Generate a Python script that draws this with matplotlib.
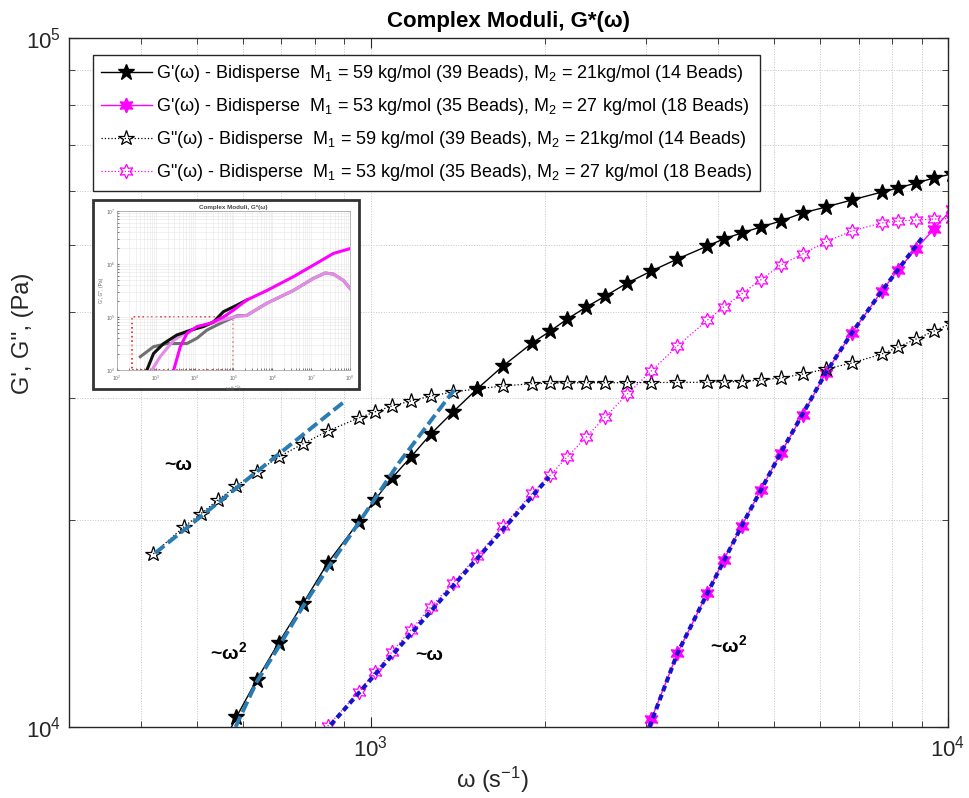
import numpy as np
import matplotlib.pyplot as plt
from matplotlib.patches import Rectangle
from matplotlib.ticker import LogLocator, NullFormatter

plt.rcParams['font.family'] = ['Liberation Sans', 'DejaVu Sans']
plt.rcParams['mathtext.fontset'] = 'custom'
plt.rcParams['mathtext.rm'] = 'Liberation Sans'
plt.rcParams['mathtext.it'] = 'Liberation Sans:italic'
plt.rcParams['mathtext.bf'] = 'Liberation Sans:bold'

# frequency grid (s^-1); the last point lies just past the plotted range
omega = np.array([420, 474, 507, 543, 585, 634, 692, 762, 842, 953,
                  1016, 1088, 1173, 1271, 1388, 1528, 1695, 1904, 2046, 2189,
                  2362, 2549, 2783, 3063, 3399, 3831, 4084, 4390, 4736, 5130,
                  5601, 6140, 6813, 7683, 8190, 8799, 9456, 10160])

# moduli in Pa; each series covers the tail end of the grid
gpp_59 = np.array([1.783, 1.951, 2.038, 2.135, 2.238, 2.345, 2.465, 2.575, 2.689, 2.809,
                   2.866, 2.924, 2.973, 3.023, 3.064, 3.095, 3.126, 3.150, 3.155, 3.158,
                   3.160, 3.160, 3.160, 3.162, 3.163, 3.165, 3.168, 3.172, 3.189, 3.210,
                   3.253, 3.307, 3.375, 3.478, 3.560, 3.656, 3.755, 3.857]) * 1e4
gp_59 = np.array([0.911, 1.034, 1.170, 1.324, 1.508, 1.730, 1.984, 2.135, 2.298, 2.465,
                  2.663, 2.866, 3.095, 3.342, 3.609, 3.755, 3.909, 4.069, 4.222, 4.410,
                  4.590, 4.779, 4.990, 5.108, 5.212, 5.317, 5.424, 5.572, 5.684, 5.820,
                  5.977, 6.057, 6.159, 6.263, 6.350]) * 1e4
gpp_53 = np.array([1.003, 1.124, 1.202, 1.285, 1.383, 1.494, 1.618, 1.771, 1.957, 2.186,
                   2.321, 2.465, 2.636, 2.818, 3.043, 3.287, 3.573, 3.896, 4.069, 4.251,
                   4.455, 4.683, 4.859, 5.058, 5.248, 5.390, 5.424, 5.442, 5.460, 5.470]) * 1e4
gp_53 = np.array([0.870, 1.027, 1.280, 1.565, 1.747, 1.957, 2.208, 2.498, 2.837, 3.265,
                  3.731, 4.294, 4.606, 4.940, 5.282, 5.650]) * 1e4

# power-law guide lines (omega, G)
fit_w_59 = ([423, 898], [1.788e4, 2.963e4])
fit_w2_59 = ([583, 634, 692, 762, 845, 953, 1118, 1394],
             [1.0e4, 1.162e4, 1.306e4, 1.494e4, 1.707e4, 1.978e4, 2.416e4, 3.084e4])
fit_w_53 = ([852, 2037], [1.007e4, 2.306e4])
fit_w2_53 = ([3038, 3399, 3831, 4390, 5130, 6140, 6813, 7683, 9015],
             [1.0e4, 1.280e4, 1.565e4, 1.957e4, 2.498e4, 3.265e4, 3.731e4, 4.294e4, 5.125e4])

labels = [
    "G'(ω) - Bidisperse  M$_1$ = 59 kg/mol (39 Beads), M$_2$ = 21kg/mol (14 Beads)",
    "G'(ω) - Bidisperse  M$_1$ = 53 kg/mol (35 Beads), M$_2$ = 27 kg/mol (18 Beads)",
    'G"(ω) - Bidisperse  M$_1$ = 59 kg/mol (39 Beads), M$_2$ = 21kg/mol (14 Beads)',
    'G"(ω) - Bidisperse  M$_1$ = 53 kg/mol (35 Beads), M$_2$ = 27 kg/mol (18 Beads)',
]

# overview curves over the full frequency window (inset)
ov_gp59_w = [589, 871, 1585, 3467, 7762, 1.70e4, 3.09e4, 5.50e4, 1.20e5, 2.19e5]
ov_gp59 = [1.0e4, 2.04e4, 3.16e4, 4.57e4, 5.62e4, 6.61e4, 8.13e4, 1.26e5, 1.66e5, 2.09e5]
ov_gp53_w = [2884, 4266, 6310, 1.15e4, 2.51e4, 5.50e4, 1.0e5, 2.19e5, 7.24e5, 3.47e6,
             1.15e7, 3.72e7, 1.0e8]
ov_gp53 = [1.0e4, 2.75e4, 4.90e4, 6.61e4, 7.59e4, 1.0e5, 1.35e5, 2.09e5, 3.16e5, 5.75e5,
           9.55e5, 1.58e6, 1.95e6]
ov_gpp59_w = [398, 871, 1950, 6310, 1.15e4, 2.04e4, 4.57e4, 1.20e5, 2.19e5, 7.24e5,
              3.47e6, 1.15e7, 2.29e7, 3.72e7, 6.76e7, 1.0e8]
ov_gpp59 = [1.78e4, 2.75e4, 3.16e4, 3.16e4, 3.98e4, 5.62e4, 7.59e4, 1.05e5, 1.07e5, 1.82e5,
            3.16e5, 5.37e5, 6.76e5, 6.46e5, 4.90e5, 3.47e5]
ov_gpp53_w = [794, 1288, 2884, 6310, 1.38e4, 3.72e4, 1.0e5, 2.19e5, 7.24e5, 3.47e6,
              1.15e7, 2.29e7, 3.72e7, 6.76e7, 1.0e8]
ov_gpp53 = [1.0e4, 1.78e4, 3.63e4, 5.25e4, 6.61e4, 8.13e4, 1.0e5, 1.07e5, 1.82e5, 3.16e5,
            5.37e5, 6.76e5, 6.46e5, 4.90e5, 3.47e5]

W, H = 969, 798
fig = plt.figure(figsize=(W / 100, H / 100), dpi=100)
ax = fig.add_axes([69 / W, 1 - 727 / H, (948 - 69) / W, (727 - 38) / H])
ax.set_xscale('log')
ax.set_yscale('log')

hexagram = (6, 1, 0)
l1, = ax.plot(omega[-len(gp_59):], gp_59, '-', color='k', lw=1.0, marker='*',
              ms=12, mfc='k', mec='k', label=labels[0])
l2, = ax.plot(omega[-len(gp_53):], gp_53, '-', color='#ff00ff', lw=1.0, marker=hexagram,
              ms=10.5, mfc='#ff00ff', mec='#ff00ff', label=labels[1])
l3, = ax.plot(omega[-len(gpp_59):], gpp_59, ':', color='k', lw=0.9, marker='*',
              ms=11.5, mfc='none', mec='k', mew=0.9, label=labels[2])
l4, = ax.plot(omega[-len(gpp_53):], gpp_53, ':', color='#ff00ff', lw=0.9, marker=hexagram,
              ms=10.5, mfc='none', mec='#ff00ff', mew=0.9, label=labels[3])

teal = '#2a7cb3'
navy = '#1414cc'
ax.plot(*fit_w_59, color=teal, lw=2.8, ls=(0, (3, 1.2)), zorder=4)
ax.plot(*fit_w2_59, color=teal, lw=2.8, ls=(0, (3, 1.2)), zorder=4)
ax.plot(*fit_w_53, color=navy, lw=3, ls=(0, (1.4, 0.9)), zorder=4)
ax.plot(*fit_w2_53, color=navy, lw=3, ls=(0, (1.4, 0.9)), zorder=4)

ann = dict(fontsize=14, fontweight='bold', ha='center', va='center')
ax.text(464, 2.393e4, '~ω', **ann)
ax.text(567, 1.285e4, '~ω$^{\\mathbf{2}}$', **ann)
ax.text(1261, 1.268e4, '~ω', **ann)
ax.text(4167, 1.315e4, '~ω$^{\\mathbf{2}}$', **ann)

ax.set_xlim(300, 1e4)
ax.set_ylim(1e4, 1e5)
for axis in (ax.xaxis, ax.yaxis):
    axis.set_major_locator(LogLocator(base=10, numticks=10))
    axis.set_minor_locator(LogLocator(base=10, subs=np.arange(2, 10), numticks=20))
    axis.set_minor_formatter(NullFormatter())
ax.grid(True, which='both', ls=':', color='#c4c4c4', lw=0.7)
ax.tick_params(which='both', direction='in', top=True, right=True,
               colors='#262626', labelsize=16)
ax.tick_params(which='major', length=7, pad=6)
ax.tick_params(which='minor', length=4)
for sp in ax.spines.values():
    sp.set_color('#262626')
    sp.set_linewidth(1.0)

ax.set_title('Complex Moduli, G*(ω)', fontsize=16, fontweight='bold', pad=8)
fig.text(23 / W, 1 - 333 / H, "G', G'', (Pa)", rotation=90, fontsize=17,
         ha='center', va='center', color='#262626')
fig.text(492 / W, 1 - 780 / H, 'ω (s$^{-1}$)', fontsize=17,
         ha='center', va='center', color='#262626')

leg = ax.legend(handles=[l1, l2, l3, l4], loc='upper left',
                bbox_to_anchor=(24 / 879, (727 - 55) / 689), borderaxespad=0,
                fontsize=13, handlelength=2.8, handletextpad=0.25, borderpad=0.45,
                labelspacing=0.66, fancybox=False, framealpha=1)
leg.get_frame().set_edgecolor('#262626')
leg.get_frame().set_linewidth(1.0)

# inset: overview of the whole frequency window
fig.add_artist(Rectangle((93 / W, 1 - 389 / H), (359 - 93) / W, (389 - 200) / H,
                         transform=fig.transFigure, facecolor='white',
                         edgecolor='#333333', lw=2, zorder=5))
ins = fig.add_axes([117 / W, 1 - 370 / H, (350 - 117) / W, (370 - 211) / H])
ins.set_zorder(6)
ins.set_xscale('log')
ins.set_yscale('log')
ins.plot(ov_gpp59_w, ov_gpp59, color='#707070', lw=2.2)
ins.plot(ov_gpp53_w, ov_gpp53, color='#e48ae8', lw=2.2)
ins.plot(ov_gp59_w, ov_gp59, color='#111111', lw=2.2)
ins.plot(ov_gp53_w, ov_gp53, color='#ff00ff', lw=2.2)
ins.add_patch(Rectangle((250, 1e4), 1e5 - 250, 1e5 - 1e4, fill=False,
                        edgecolor='#e02020', ls=':', lw=1.2))
ins.set_xlim(1e2, 1e8)
ins.set_ylim(1e4, 1e7)
ins.xaxis.set_major_locator(LogLocator(base=10, numticks=10))
ins.yaxis.set_major_locator(LogLocator(base=10, numticks=10))
ins.grid(True, which='both', color='#e6e6e6', lw=0.4)
ins.tick_params(which='both', direction='in', labelsize=3.5, colors='#666666',
                length=1.5)
ins.tick_params(axis='x', pad=2.5)
ins.tick_params(axis='y', pad=1.5)
for sp in ins.spines.values():
    sp.set_color('#999999')
    sp.set_linewidth(0.5)
ins.set_title('Complex Moduli, G*(ω)', fontsize=4.5, fontweight='bold', pad=1.5,
              color='#444444')
ins.set_xlabel('ω (s$^{-1}$)', fontsize=3.5, labelpad=0.5, color='#666666')
ins.set_ylabel("G', G'', (Pa)", fontsize=3.5, labelpad=1, color='#666666')

fig.savefig('out.png', dpi=100)
